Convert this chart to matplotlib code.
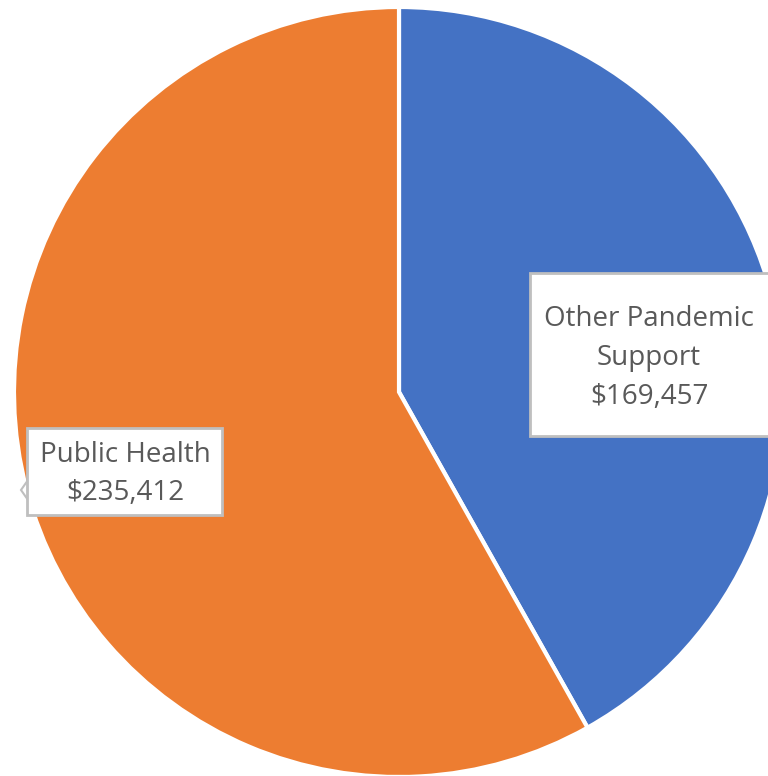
import matplotlib
matplotlib.use("Agg")
import matplotlib.pyplot as plt
from matplotlib.patches import Rectangle, Polygon

# data
labels = ["Other Pandemic\nSupport", "Public Health"]
values = [169457, 235412]
colors = ["#4472C4", "#ED7D31"]

W, H = 768, 776
fig = plt.figure(figsize=(W / 100, H / 100), dpi=100)
ax = fig.add_axes([0, 0, 1, 1])

# pie in pixel coords (y up)
cx, cy, r = 399, H - 392, 385
ax.pie(values, colors=colors, startangle=90, counterclock=False,
       center=(cx, cy), radius=r,
       wedgeprops=dict(edgecolor="white", linewidth=3))
ax.set_xlim(0, W)
ax.set_ylim(0, H)
ax.set_aspect("equal")
ax.set_axis_off()

# label boxes (x0, top, x1, bottom) in image pixels
boxes = [(530, 273, 770, 436), (27, 428, 222, 515)]
text_xy = [(649, 358), (125, 474)]

for lab, val, (x0, t, x1, b), (tx, ty) in zip(labels, values, boxes, text_xy):
    ax.add_patch(Rectangle((x0, H - b), x1 - x0, b - t, facecolor="white",
                           edgecolor="#BFBFBF", linewidth=2, zorder=5))
    ax.text(tx, H - ty, f"{lab}\n${val:,}", ha="center", va="center",
            fontsize=20, color="#595959", family="Open Sans",
            linespacing=1.52, zorder=6)

# little pointer on the Public Health callout
ax.add_patch(Polygon([(28, H - 480), (21, H - 490), (28, H - 500)],
                     closed=True, facecolor="white", edgecolor="#BFBFBF",
                     linewidth=1.5, zorder=4))

fig.savefig("out.png", dpi=100)
